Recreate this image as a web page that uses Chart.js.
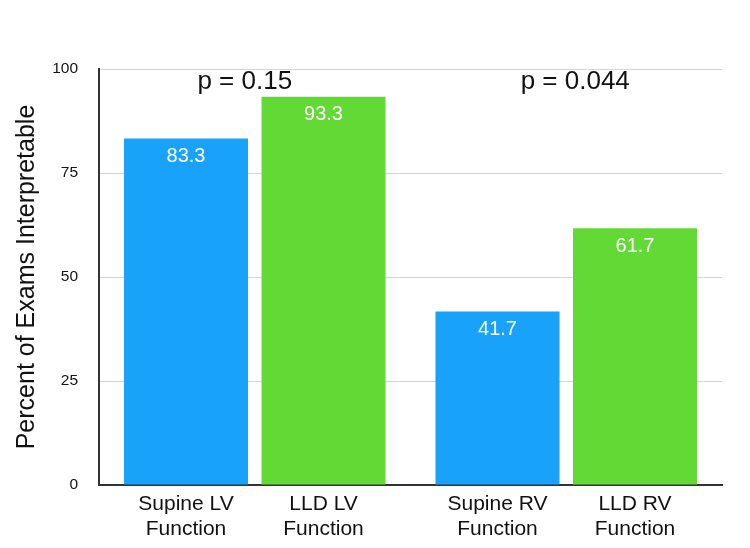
<!DOCTYPE html>
<html>
<head>
<meta charset="utf-8">
<script src="https://cdn.jsdelivr.net/npm/chart.js@4"></script>
<style>
  html, body { margin: 0; padding: 0; background: #ffffff; }
  #wrap { width: 750px; height: 548px; }
</style>
</head>
<body>
<div id="wrap"><canvas id="chart" width="750" height="548"></canvas></div>
<script>
// groups on the x axis (LV, RV), each with a supine and an LLD bar
const groups = ["LV", "RV"];
const supineValues = [83.3, 41.7];
const lldValues = [93.3, 61.7];
const supineLabels = [["Supine LV", "Function"], ["Supine RV", "Function"]];
const lldLabels = [["LLD LV", "Function"], ["LLD RV", "Function"]];
const pValues = ["p = 0.15", "p = 0.044"];
const yTicks = [0, 25, 50, 75, 100];

const FONT = "'Liberation Sans', Arial, Helvetica, sans-serif";

// value labels, p values and two-line bar labels under the axis
const labelPlugin = {
    id: "labels",
    afterDatasetsDraw(chart) {
        const ctx = chart.ctx;
        const yScale = chart.scales.y;
        const catLabels = [supineLabels, lldLabels];
        ctx.save();
        ctx.textAlign = "center";
        ctx.textBaseline = "middle";
        chart.data.datasets.forEach((ds, di) => {
            const meta = chart.getDatasetMeta(di);
            meta.data.forEach((bar, i) => {
                ctx.fillStyle = "#ffffff";
                ctx.font = "20px " + FONT;
                ctx.fillText(ds.data[i].toFixed(1), bar.x, bar.y + 18);

                ctx.fillStyle = "#111111";
                ctx.font = "21px " + FONT;
                const lines = catLabels[di][i];
                ctx.fillText(lines[0], bar.x, yScale.bottom + 19);
                ctx.fillText(lines[1], bar.x, yScale.bottom + 44);
            });
        });
        // p values above each pair
        const xScale = chart.scales.x;
        const offsets = [-10, 9];
        ctx.fillStyle = "#111111";
        ctx.font = "26px " + FONT;
        pValues.forEach((p, i) => {
            ctx.fillText(p, xScale.getPixelForValue(i) + offsets[i], yScale.getPixelForValue(96.8));
        });
        ctx.restore();
    }
};

new Chart(document.getElementById("chart"), {
    type: "bar",
    data: {
        labels: groups,
        datasets: [
            {
                label: "Supine",
                data: supineValues,
                backgroundColor: "#18a2fa",
                barPercentage: 0.902,
                categoryPercentage: 0.883,
            },
            {
                label: "LLD",
                data: lldValues,
                backgroundColor: "#63d935",
                barPercentage: 0.902,
                categoryPercentage: 0.883,
            },
        ],
    },
    options: {
        responsive: false,
        animation: false,
        layout: { padding: { top: 69, right: 28, bottom: 63, left: 0 } },
        plugins: {
            legend: { display: false },
            tooltip: { enabled: false },
        },
        scales: {
            x: {
                grid: { display: false, drawTicks: false },
                border: { display: true, color: "#333333", width: 2 },
                ticks: { display: false },
            },
            y: {
                min: 0,
                max: 100,
                afterFit(scale) { scale.width = 99; },
                afterBuildTicks(scale) { scale.ticks = yTicks.map(v => ({ value: v })); },
                grid: { color: "#d6d6d6", drawTicks: false },
                border: { display: true, color: "#333333", width: 2 },
                ticks: {
                    color: "#111111",
                    padding: 21,
                    font: { family: FONT, size: 15.5 },
                },
                title: {
                    display: true,
                    text: "Percent of Exams Interpretable",
                    color: "#111111",
                    font: { family: FONT, size: 25 },
                    padding: { top: 12, bottom: 0 },
                },
            },
        },
    },
    plugins: [labelPlugin],
});
</script>
</body>
</html>
